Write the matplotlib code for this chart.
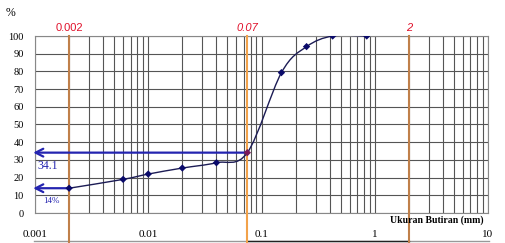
import numpy as np
import matplotlib
matplotlib.use('Agg')
import matplotlib.pyplot as plt
from matplotlib.path import Path
from matplotlib.patches import PathPatch
from matplotlib.transforms import offset_copy

# grain size distribution
size_mm = [0.002, 0.006, 0.01, 0.02, 0.04, 0.075, 0.15, 0.25, 0.425, 0.85]
passing = [14, 19, 22, 25.4, 28.4, 34.1, 79.3, 94, 100, 100]
limit_sizes = [0.002, 0.075, 2]
limit_labels = ['0.002', '0.07', '2']
x_ticks = [0.001, 0.01, 0.1, 1, 10]
x_ticklabels = ['0.001', '0.01', '0.1', '1', '10']
y_ticks = list(range(0, 101, 10))

serif = ['Liberation Serif', 'DejaVu Serif']
sans = ['Liberation Sans', 'DejaVu Sans']

fig = plt.figure(figsize=(5.05, 2.43), dpi=100)
ax = fig.add_axes([35 / 505, 1 - 213 / 243, 453 / 505, 177 / 243])
ax.set_xscale('log')
ax.set_xlim(0.001, 10)
ax.set_ylim(0, 100)

ax.set_xticks(x_ticks)
ax.set_xticklabels(x_ticklabels, fontfamily=serif, fontsize=8)
ax.set_yticks(y_ticks)
ax.set_yticklabels([str(v) for v in y_ticks], fontfamily=serif, fontsize=7.5)
ax.tick_params(axis='both', which='both', length=0)
ax.tick_params(axis='x', pad=12.5)
ax.tick_params(axis='y', pad=8)
ax.grid(True, which='both', axis='x', color='#555555', lw=0.8)
ax.grid(True, which='major', axis='y', color='#555555', lw=0.8)
for s in ax.spines.values():
    s.set_color('#888888')
    s.set_linewidth(0.8)

# smoothed line like a spreadsheet chart: bezier through the points in log space
pu = 113.0
pv = 1.77
pts = np.column_stack([np.log10(size_mm) * pu, np.array(passing) * pv])
n = len(pts)
verts = [pts[0]]
codes = [Path.MOVETO]
for i in range(n - 1):
    p0 = pts[max(i - 1, 0)]
    p1 = pts[i]
    p2 = pts[i + 1]
    p3 = pts[min(i + 2, n - 1)]
    verts += [p1 + (p2 - p0) / 6, p2 - (p3 - p1) / 6, p2]
    codes += [Path.CURVE4] * 3
verts = np.array(verts)
verts = np.column_stack([10 ** (verts[:, 0] / pu), verts[:, 1] / pv])
ax.add_patch(PathPatch(Path(verts, codes), fill=False, ec='#1C1C55', lw=1.0, zorder=4))

# limit lines (clay / silt / sand / gravel)
limit_colors = ['#C0804A', '#F2A24A', '#C0804A']
for xs, lab, c in zip(limit_sizes, limit_labels, limit_colors):
    ax.axvline(xs, ymin=-0.18, ymax=1, color=c, lw=1.5, clip_on=False, zorder=3)
    style = 'normal' if lab == '0.002' else 'italic'
    ax.text(xs, 1.045, lab, transform=ax.get_xaxis_transform(), ha='center', va='center',
            color='#E0102A', fontsize=8, fontstyle=style, fontfamily=sans)

colors = ['#0A0A6A'] * n
colors[size_mm.index(0.075)] = '#7A1A5A'
ax.scatter(size_mm, passing, marker='D', s=14, c=colors, zorder=5, lw=0)

# reading arrows
for xs, val in [(0.075, 34.1), (0.002, 14)]:
    ax.annotate('', xy=(-0.004, val), xycoords=('axes fraction', 'data'),
                xytext=(xs, val), textcoords='data',
                arrowprops=dict(arrowstyle='->,head_length=0.55,head_width=0.28',
                                color='#2424B0', lw=1.6, shrinkA=0, shrinkB=0),
                annotation_clip=False, zorder=4)
ax.text(0.00105, 26.5, '34.1', color='#2424B0', fontsize=8.5, fontfamily=serif, va='center')
ax.text(0.00118, 6.5, '14%', color='#2424B0', fontsize=6.5, fontfamily=serif, va='center')

ax.text(0.99, -0.04, 'Ukuran Butiran (mm)', transform=ax.transAxes, ha='right', va='center',
        fontsize=7, fontweight='bold', fontfamily=serif)
fig.text(11 / 505, 1 - 13 / 243, '%', ha='center', va='center', fontsize=8.5, fontfamily=serif)

# lower axis line at the very bottom of the picture
low = offset_copy(ax.get_xaxis_transform(), fig=fig, x=0, y=-28, units='dots')
ax.plot([0.00098, 10.2], [0, 0], transform=low, color='#999999', lw=1.0, clip_on=False)
ax.plot([0.075, 2], [0, 0], transform=low, color='#222222', lw=1.0, clip_on=False)

fig.savefig('out.png', dpi=100)
